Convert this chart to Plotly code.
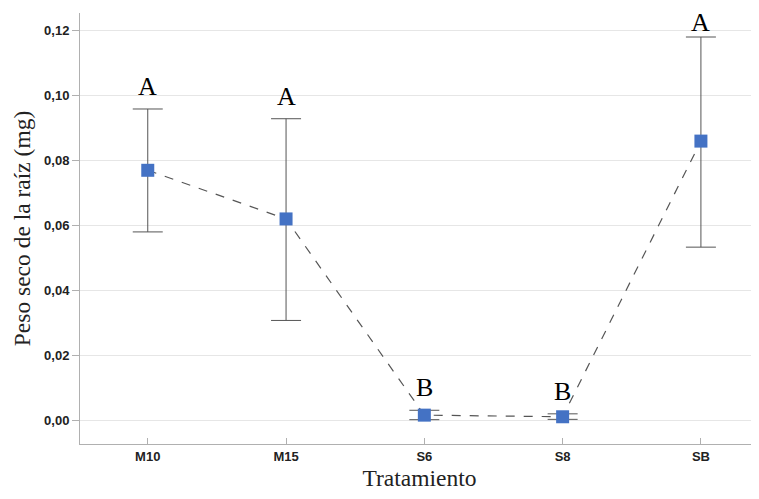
import plotly.graph_objects as go

categories = ["M10", "M15", "S6", "S8", "SB"]
means = [0.077, 0.062, 0.0015, 0.001, 0.086]
upper = [0.0959, 0.0929, 0.0030, 0.0019, 0.1181]
lower = [0.0580, 0.0307, 0.0001, 0.0002, 0.0533]
letters = ["A", "A", "B", "B", "A"]

err_plus = [u - m for u, m in zip(upper, means)]
err_minus = [m - l for m, l in zip(means, lower)]

fig = go.Figure()
fig.add_trace(go.Scatter(
    x=categories, y=means, mode="lines+markers",
    line=dict(color="#555555", width=1.2, dash="dash"),
    marker=dict(symbol="square", size=13, color="#4472C4"),
    error_y=dict(type="data", symmetric=False, array=err_plus, arrayminus=err_minus,
                 color="#555555", thickness=1, width=15),
    showlegend=False,
))

letter_shift = {"SB": -1}
for c, u, t in zip(categories, upper, letters):
    fig.add_annotation(x=c, y=u, text=t, showarrow=False, yanchor="bottom", borderpad=0,
                       yshift=letter_shift.get(c, 7),
                       font=dict(family="Liberation Serif, DejaVu Serif, serif", size=26, color="black"))

# page body has an 8px default margin; size the figure so it fills the 759x499 window
fig.update_layout(
    width=751, height=491,
    margin=dict(l=72, r=0, t=5, b=55),
    paper_bgcolor="white", plot_bgcolor="white",
    separators=",.",
    xaxis=dict(
        type="category", range=[-0.49, 4.42], automargin=False,
        showline=True, linecolor="#b0b0b0", linewidth=1,
        ticks="inside", ticklen=6, tickcolor="#b0b0b0",
        showgrid=False,
        tickfont=dict(family="Liberation Sans, Arial, sans-serif", size=13, color="#222222", weight="bold"),
        title=dict(text="Tratamiento", standoff=6,
                   font=dict(family="Liberation Serif, DejaVu Serif, serif", size=23.5, color="#222222")),
    ),
    yaxis=dict(
        range=[-0.0074, 0.1255], tickvals=[0, 0.02, 0.04, 0.06, 0.08, 0.10, 0.12],
        tickformat=".2f", automargin=False,
        showline=True, linecolor="#b0b0b0", linewidth=1,
        ticks="outside", ticklen=7, tickcolor="#b0b0b0",
        showgrid=True, gridcolor="#e6e6e6", gridwidth=1, zeroline=False,
        tickfont=dict(family="Liberation Sans, Arial, sans-serif", size=13, color="#222222", weight="bold"),
        title=dict(text="Peso seco de la raíz (mg)", standoff=6,
                   font=dict(family="Liberation Serif, DejaVu Serif, serif", size=23.5, color="#222222")),
    ),
)

fig.write_html("out.html")
